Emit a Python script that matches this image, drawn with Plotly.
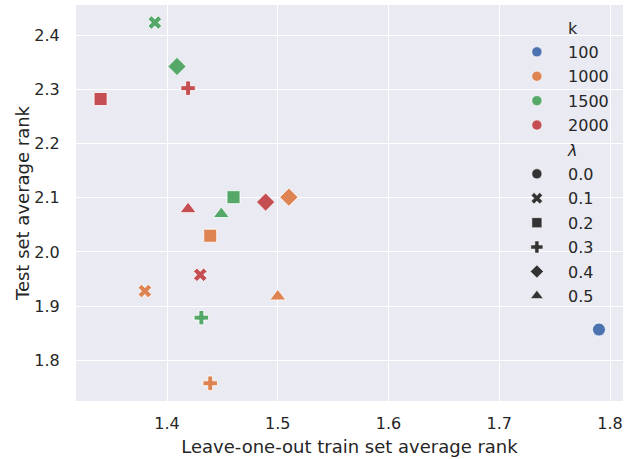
import plotly.graph_objects as go

# ---- data ----
k_vals = [100, 1000, 1000, 1000, 1000, 1000, 1500, 1500, 1500, 1500, 1500, 2000, 2000, 2000, 2000, 2000]
lam_vals = [0.0, 0.1, 0.2, 0.3, 0.4, 0.5, 0.1, 0.2, 0.3, 0.4, 0.5, 0.1, 0.2, 0.3, 0.4, 0.5]
train_rank = [1.790, 1.380, 1.439, 1.439, 1.510, 1.500, 1.389, 1.460, 1.431, 1.409, 1.449, 1.430, 1.340, 1.419, 1.489, 1.419]
test_rank = [1.857, 1.928, 2.030, 1.758, 2.101, 1.918, 2.423, 2.101, 1.879, 2.342, 2.070, 1.958, 2.282, 2.302, 2.092, 2.079]

k_levels = [100, 1000, 1500, 2000]
lam_levels = [0.0, 0.1, 0.2, 0.3, 0.4, 0.5]
x_ticks = [1.4, 1.5, 1.6, 1.7, 1.8]
y_ticks = [1.8, 1.9, 2.0, 2.1, 2.2, 2.3, 2.4]

# ---- styles ----
colors = {100: "#4C72B0", 1000: "#DD8452", 1500: "#55A868", 2000: "#C44E52"}
symbols = {0.0: "circle", 0.1: "x", 0.2: "square", 0.3: "cross", 0.4: "diamond", 0.5: "triangle-up"}
sizes = {0.0: 13, 0.1: 12, 0.2: 13, 0.3: 12, 0.4: 14, 0.5: 14}
FONT = "DejaVu Sans"
TXT = "#262626"

fig = go.Figure()

fig.add_trace(go.Scatter(
    x=train_rank, y=test_rank, mode="markers", showlegend=False, hoverinfo="x+y",
    marker=dict(
        color=[colors[k] for k in k_vals],
        symbol=[symbols[l] for l in lam_vals],
        size=[sizes[l] for l in lam_vals],
        opacity=1,
        line=dict(color="white", width=0.8),
    ),
))

# ---- legend (dummy entries) ----
gi = 0
PAD = "\u2002\u2009"
def legend_entry(name, color, symbol, visible_marker=True, size=10):
    global gi
    gi += 1
    fig.add_trace(go.Scatter(
        x=[None], y=[None], mode="markers", name=PAD + name, legendgroup=f"g{gi}",
        marker=dict(color=color, symbol=symbol, size=size,
                    opacity=1 if visible_marker else 0,
                    line=dict(color="white", width=0.5)),
    ))

legend_entry("k", "rgba(0,0,0,0)", "circle", False)
for k in k_levels:
    legend_entry(str(k), colors[k], "circle")
legend_entry("<i>λ</i>", "rgba(0,0,0,0)", "circle", False)
for l in lam_levels:
    legend_entry(f"{l:.1f}", "#333333", symbols[l], size=10 if l != 0.5 else 11)

fig.update_layout(
    width=629, height=459,
    margin=dict(l=76, r=6, t=5, b=58),
    paper_bgcolor="white",
    plot_bgcolor="#EAEAF2",
    font=dict(family=FONT, size=16, color=TXT),
    legend=dict(
        x=0.806, y=0.986, xanchor="left", yanchor="top",
        bgcolor="rgba(0,0,0,0)", borderwidth=0,
        font=dict(family=FONT, size=16, color=TXT),
        traceorder="grouped", tracegroupgap=0.6,
        itemwidth=30, maxheight=420,
    ),
    xaxis=dict(
        range=[1.3178, 1.8117], tickvals=x_ticks, ticktext=[f"{v:.1f}" for v in x_ticks],
        showgrid=True, gridcolor="white", gridwidth=1.2, zeroline=False, showline=False,
        ticks="", tickfont=dict(size=16, color=TXT), automargin=False,
        ticklabeloverflow="allow", ticklabelstandoff=11,
        title=dict(text="Leave-one-out train set average rank", font=dict(size=18, color=TXT), standoff=8),
    ),
    yaxis=dict(
        range=[1.7253, 2.4553], tickvals=y_ticks, ticktext=[f"{v:.1f}" for v in y_ticks],
        showgrid=True, gridcolor="white", gridwidth=1.2, zeroline=False, showline=False,
        ticks="outside", ticklen=12, tickcolor="rgba(0,0,0,0)",
        tickfont=dict(size=16, color=TXT), automargin=False,
        ticklabeloverflow="allow",
        title=dict(text="Test set average rank", font=dict(size=18, color=TXT), standoff=0),
    ),
)

fig.write_html(
    "out.html",
    config={"displayModeBar": False},
    post_script="document.body.style.margin='0';document.body.style.overflow='hidden';",
)
